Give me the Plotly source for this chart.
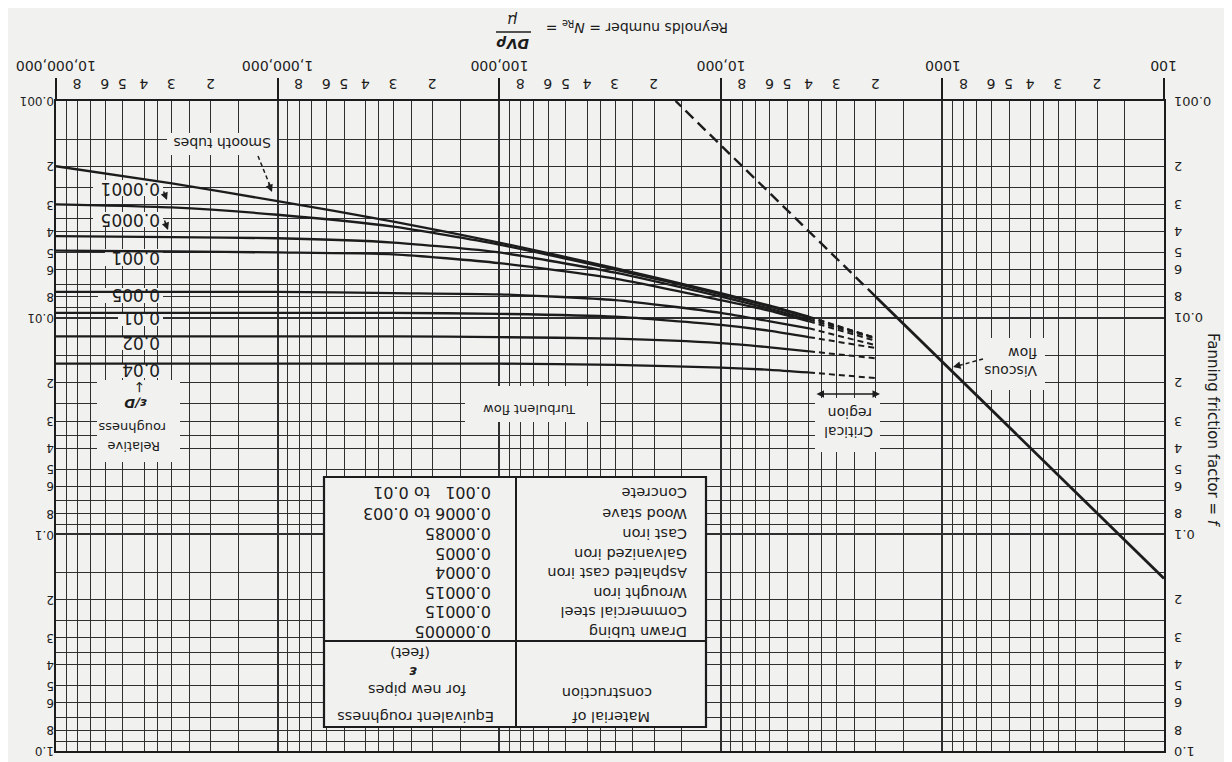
import math
import plotly.graph_objects as go

# ---------------- values ----------------
RE_TURB = [1e7, 3e6, 1e6, 3e5, 1e5, 3e4, 1e4, 6e3, 4e3]
RE_CRIT = [4e3, 2e3]

F_SMOOTH = [0.0020, 0.0024, 0.0029, 0.0036, 0.0045, 0.0059, 0.0077, 0.0088, 0.0099]
F_E0_0001 = [0.0030, 0.0031, 0.00335, 0.0038, 0.0046, 0.0060, 0.0078, 0.0089, 0.0100]
F_E0_0005 = [0.0042, 0.00425, 0.0043, 0.0045, 0.0050, 0.0062, 0.0080, 0.0091, 0.0102]
F_E0_001 = [0.0049, 0.00495, 0.0050, 0.0051, 0.0056, 0.0066, 0.0083, 0.0093, 0.0104]
F_E0_005 = [0.0076, 0.0076, 0.0076, 0.0077, 0.0078, 0.0083, 0.0095, 0.0104, 0.0112]
F_E0_01 = [0.0095, 0.0095, 0.0095, 0.0095, 0.0096, 0.0099, 0.0108, 0.0115, 0.0123]
F_E0_02 = [0.0122, 0.0122, 0.0122, 0.0122, 0.0123, 0.0125, 0.0131, 0.0137, 0.0143]
F_E0_04 = [0.0163, 0.0163, 0.0163, 0.0163, 0.0163, 0.0165, 0.0170, 0.0174, 0.0179]
F_CRIT_END = [0.0124, 0.0124, 0.0125, 0.0128, 0.0134, 0.0138, 0.0154, 0.0190]

RE_VISCOUS = [100, 2000]
F_VISCOUS = [0.16, 0.008]
RE_VISCOUS_EXT = [2000, 16000]
F_VISCOUS_EXT = [0.008, 0.001]

ROUGHNESS_LABELS = ["0.0001", "0.0005", "0.001", "0.005", "0.01", "0.02", "0.04"]

X_MAJOR_VALS = [1e2, 1e3, 1e4, 1e5, 1e6, 1e7]
X_MAJOR_TEXT = ["100", "1000", "10,000", "100,000", "1,000,000", "10,000,000"]
Y_MAJOR_VALS = [0.001, 0.01, 0.1, 1.0]
Y_MAJOR_TEXT = ["0.001", "0.01", "0.1", "1.0"]
GRID_MANTISSAS = [1.5, 2, 2.5, 3, 3.5, 4, 5, 6, 7, 8, 9]
MINOR_TEXT = {2: "2", 3: "3", 4: "4", 5: "5", 6: "6", 8: "8"}

MATERIALS = ["Drawn tubing", "Commercial steel", "Wrought iron",
             "Asphalted cast iron", "Galvanized iron", "Cast iron",
             "Wood stave", "Concrete"]
ROUGHNESS_FT = ["0.000005", "0.00015", "0.00015", "0.0004", "0.0005",
                "0.00085", "0.0006 to 0.003", "0.001\u00a0\u00a0 to 0.01"]

# ---------------- geometry (page pixels; the page body adds an 8px offset) ----------------
OFF = 8
W, H = 1224, 754
ML, MR, MT, MB = 45, 58, 93, 11
PL, PR, PT, PB = 56, 1164, 101, 751          # plot frame, page pixels
PW, PH = W - ML - MR, H - MT - MB
FONT = "DejaVu Sans"
INK = "#1c1c1c"
GRID = "#2f2f2f"
BG = "#f1f1ef"


def pxx(x):
    return (x - OFF - ML) / PW


def pyy(y):
    return (OFF + H - MB - y) / PH


def re_at(px):
    return 10 ** (7 - (px - PL) / ((PR - PL) / 5))


def f_at(py):
    return 10 ** ((py - PT) / ((PB - PT) / 3) - 3)


x_minor = [m * 10 ** k for k in range(2, 7) for m in GRID_MANTISSAS]
x_ticks = X_MAJOR_VALS + x_minor
x_text = [""] * len(X_MAJOR_VALS) + [MINOR_TEXT.get(m, "") for k in range(2, 7) for m in GRID_MANTISSAS]

y_minor = [m * 10.0 ** k for k in (-3, -2, -1) for m in GRID_MANTISSAS]
y_ticks = Y_MAJOR_VALS + y_minor
y_text = Y_MAJOR_TEXT + [MINOR_TEXT.get(m, "") for k in (-3, -2, -1) for m in GRID_MANTISSAS]

fig = go.Figure(layout=dict(template="none"))

curves = [F_SMOOTH, F_E0_0001, F_E0_0005, F_E0_001, F_E0_005, F_E0_01, F_E0_02, F_E0_04]
yaxes_for = ["y", "y", "y", "y", "y", "y", "y2", "y3"]
for f, fend, ya in zip(curves, F_CRIT_END, yaxes_for):
    fig.add_trace(go.Scatter(x=RE_TURB, y=f, mode="lines", yaxis=ya,
                             line=dict(color=INK, width=2.3, shape="spline", smoothing=0.6),
                             hoverinfo="skip", showlegend=False))
    fig.add_trace(go.Scatter(x=RE_CRIT, y=[f[-1], fend], mode="lines", yaxis=ya,
                             line=dict(color=INK, width=2, dash="6px,4px"),
                             hoverinfo="skip", showlegend=False))

fig.add_trace(go.Scatter(x=RE_VISCOUS, y=F_VISCOUS, mode="lines", xaxis="x2",
                         line=dict(color=INK, width=2.8), hoverinfo="skip", showlegend=False))
fig.add_trace(go.Scatter(x=RE_VISCOUS_EXT, y=F_VISCOUS_EXT, mode="lines", xaxis="x2",
                         line=dict(color=INK, width=2.4, dash="11px,6px"),
                         hoverinfo="skip", showlegend=False))

dom = [(PL - OFF - ML) / PW, (PR - OFF - ML) / PW]
tickfont = dict(family=FONT, size=14, color=INK)

fig.update_layout(
    width=W, height=H,
    margin=dict(l=ML, r=MR, t=MT, b=MB, pad=0),
    paper_bgcolor=BG, plot_bgcolor=BG,
    showlegend=False, hovermode=False,
    xaxis=dict(type="log", range=[7, 2], domain=dom, side="top", anchor="y",
               tickmode="array", tickvals=x_ticks, ticktext=x_text, tickangle=180,
               ticklabelshift=-4,
               ticks="", showgrid=True, gridcolor=GRID, gridwidth=1.3,
               showline=True, mirror=True, linecolor=INK, linewidth=2.2,
               zeroline=False, tickfont=tickfont, automargin=False,
               ticklabeloverflow="allow"),
    xaxis2=dict(type="log", range=[7, 2], domain=dom, side="top", anchor="y", overlaying="x",
                tickmode="array", tickvals=X_MAJOR_VALS, showticklabels=False,
                ticks="outside", ticklen=22, tickwidth=2, tickcolor=INK,
                showgrid=True, gridcolor=GRID, gridwidth=1.7, showline=False,
                zeroline=False, automargin=False),
    yaxis=dict(type="log", range=[0, -3], domain=[0, 1], anchor="x",
               tickmode="array", tickvals=Y_MAJOR_VALS, showticklabels=False, ticks="",
               showgrid=True, gridcolor=GRID, gridwidth=1.7,
               minor=dict(tickmode="array", tickvals=y_minor, showgrid=True,
                          gridcolor=GRID, gridwidth=1.3, ticks=""),
               showline=True, mirror=True, linecolor=INK, linewidth=2.2,
               zeroline=False, automargin=False),
    yaxis2=dict(type="log", range=[0, -3], overlaying="y", anchor="free", position=0,
                side="right", tickmode="array", tickvals=y_ticks, ticktext=y_text,
                tickangle=180, ticklabelshift=-4, ticks="", showgrid=False, showline=False,
                zeroline=False, tickfont=dict(family=FONT, size=12, color=INK),
                automargin=False, ticklabeloverflow="allow"),
    yaxis3=dict(type="log", range=[0, -3], overlaying="y", anchor="free", position=1,
                side="left", tickmode="array", tickvals=y_ticks, ticktext=y_text,
                tickangle=180, ticklabelshift=-4, ticks="", showgrid=False, showline=False,
                zeroline=False, tickfont=dict(family=FONT, size=13, color=INK),
                automargin=False, ticklabeloverflow="allow"),
)

# ---------------- boxes that hide the grid behind labels ----------------
shapes = []


def gridbox(x0, y0, x1, y1, line=None):
    shapes.append(dict(type="rect", xref="x", yref="y", x0=re_at(x0), x1=re_at(x1),
                       y0=f_at(y0), y1=f_at(y1), fillcolor=BG, layer="between",
                       line=dict(width=0) if line is None else line))


gridbox(167, 133, 277, 155)          # smooth tubes
label_boxes = [(93, 180, 163, 196), (93, 212, 163, 227), (105, 249, 163, 266),
               (98, 288, 163, 303), (118, 312, 163, 326), (118, 336, 163, 350),
               (118, 363, 163, 378)]
for b in label_boxes:
    gridbox(*b)
gridbox(97, 380, 180, 462)           # relative roughness
gridbox(465, 386, 600, 422)          # turbulent flow
gridbox(815, 398, 880, 452)          # critical region
gridbox(977, 338, 1045, 390)         # viscous flow
gridbox(324, 477, 706, 727, line=dict(color=INK, width=2.2))   # table

for (x0, y0, x1, y1) in [(516, 477, 516, 727), (324, 641, 706, 641)]:
    shapes.append(dict(type="line", xref="x", yref="y", x0=re_at(x0), x1=re_at(x1),
                       y0=f_at(y0), y1=f_at(y1), layer="between",
                       line=dict(color=INK, width=2)))

# dashed leaders
for (x0, y0, x1, y1) in [(258, 156, 271, 188), (983, 359, 957, 366)]:
    shapes.append(dict(type="line", xref="x", yref="y", x0=re_at(x0), x1=re_at(x1),
                       y0=f_at(y0), y1=f_at(y1), layer="above",
                       line=dict(color=INK, width=1.5, dash="4px,3px")))

# fraction bar of the title
shapes.append(dict(type="line", xref="paper", yref="paper", x0=pxx(496), x1=pxx(531),
                   y0=pyy(32), y1=pyy(32), line=dict(color=INK, width=1.6)))

fig.update_layout(shapes=shapes)

# ---------------- text ----------------
anns = []


def ann(text, x, y, size, angle=180, xanchor="center", yanchor="middle", **kw):
    anns.append(dict(text=text, x=pxx(x), y=pyy(y), xref="paper", yref="paper",
                     showarrow=False, textangle=angle, xanchor=xanchor, yanchor=yanchor,
                     font=dict(family=FONT, size=size, color=INK), **kw))


def arrow(xh, yh, xt, yt, **kw):
    anns.append(dict(text="", x=pxx(xh), y=pyy(yh), xref="paper", yref="paper",
                     showarrow=True, ax=xt - xh, ay=yt - yh, arrowhead=2, arrowsize=1,
                     arrowwidth=1.5, arrowcolor=INK, standoff=0, **kw))


# decade labels of the Reynolds-number axis, centred on their ticks
for v, t in zip(X_MAJOR_VALS, X_MAJOR_TEXT):
    anns.append(dict(text=t, x=math.log10(v), xref="x2", y=pyy(66), yref="paper",
                     showarrow=False, textangle=180, xanchor="center", yanchor="middle",
                     font=dict(family=FONT, size=14, color=INK)))

ann("Reynolds number = <i>N</i><sub>Re</sub> =", 637, 27, 14)
ann("<b><i>DV\u03c1</i></b>", 513, 44, 14)
ann("<i>\u03bc</i>", 513, 20, 15)
ann("Fanning friction factor = <i>f</i>", 1213, 430, 15, angle=90)

ann("Smooth tubes", 222, 143, 14)
arrow(272, 192, 268, 182)

rough_y = [189, 220, 258, 295, 318, 343, 370]
for t, yy in zip(ROUGHNESS_LABELS, rough_y):
    ann(t, 162, yy, 17, xanchor="right")
arrow(167, 200, 163, 190)
arrow(168, 230, 164, 219)

ann("Relative", 134, 447, 13)
ann("roughness", 132, 428, 13)
ann("<b><i>\u03b5/D</i></b>", 136, 404, 13)
ann("\u2193", 139, 387, 14)

ann("Turbulent flow", 530, 410, 13)
ann("Critical", 849, 432, 14)
ann("region", 850, 413, 14)
arrow(880, 394, 815, 394, arrowside="end+start")

ann("Viscous<br>flow", 1039, 362, 14, xanchor="right", align="left")
arrow(953, 367, 961, 365)

# table
ann("Material of", 611, 717, 14.5)
ann("construction", 607, 693, 14.5)
ann("Equivalent roughness", 416, 717, 14.5)
ann("for new pipes", 417, 690, 14.5)
ann("<b><i>\u03b5</i></b>", 413, 672, 14.5)
ann("(feet)", 410, 653, 14.5)
row_y = [632, 612, 593, 573, 554, 534, 514, 493]
for m, v, yy in zip(MATERIALS, ROUGHNESS_FT, row_y):
    ann(m, 689, yy, 14.5, xanchor="right")
    ann(v, 493, yy, 16, xanchor="right")

fig.update_layout(annotations=anns)

fig.write_html("out.html")
